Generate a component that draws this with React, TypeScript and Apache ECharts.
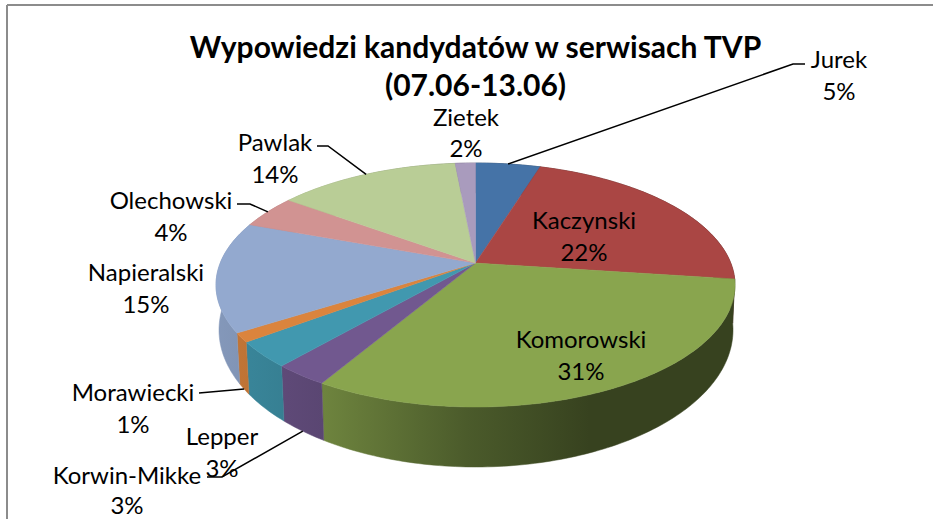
import React, { useEffect, useRef } from "react";
import * as echarts from "echarts";

const titleLines = ["Wypowiedzi kandydatów w serwisach TVP", "(07.06-13.06)"];
const names = ["Jurek", "Kaczynski", "Komorowski", "Korwin-Mikke", "Lepper", "Morawiecki", "Napieralski", "Olechowski", "Pawlak", "Zietek"];
const shares = [4.8, 22.3, 31.4, 2.9, 3.4, 1.2, 14.6, 4.4, 13.5, 1.5];
const colors = ["#4573a7", "#aa4644", "#89a54e", "#71588f", "#4198af", "#db843d", "#93a9cf", "#d19392", "#b9cd96", "#a99bbd"];

// label layout: centre of the name line and of the percent line
const labelX = [839, 584, 581, 127, 222, 133, 146, 171, 275, 466];
const labelY = [58, 219, 338, 474, 435, 391, 271, 199, 141, 116];
const percentY = [90, 251, 370, 504, 467, 423, 303, 231, 173, 147];
// leader lines: [end next to the label, elbow]; null = no leader
const leaders: (number[][] | null)[] = [
  [[805, 64], [793, 64]],
  null,
  null,
  [[207, 477], [222, 477]],
  null,
  [[199, 393], [199, 393]],
  null,
  [[237, 204], [250, 204]],
  [[317, 146], [328, 146]],
  null,
];

const TOP = { cx: 475.5, cy: 285, rx: 259.5, ry: 122 };
const BOTTOM = { cx: 476, cy: 330, rx: 257, ry: 137 };
const K = -0.18;
const S = Math.sqrt(1 - K * K);
const FONT = "Lato";

type Ell = { cx: number; cy: number; rx: number; ry: number };
function project(f: number, e: Ell): number[] {
  const t = 2 * Math.PI * f;
  const u = Math.sin(t);
  const v = -Math.cos(t);
  const d = 1 + K * v;
  return [e.cx + (e.rx * u * S) / d, e.cy + (e.ry * (v + K)) / d];
}
function arc(a: number, b: number, e: Ell): number[][] {
  const n = Math.max(2, Math.ceil((b - a) * 360));
  const pts: number[][] = [];
  for (let i = 0; i <= n; i++) pts.push(project(a + ((b - a) * i) / n, e));
  return pts;
}
function shade(hex: string, m: number): string {
  const c = parseInt(hex.slice(1), 16);
  const r = Math.round(((c >> 16) & 255) * m);
  const g = Math.round(((c >> 8) & 255) * m);
  const b = Math.round((c & 255) * m);
  return `rgb(${r},${g},${b})`;
}
function sideFill(hex: string) {
  const stops: number[][] = [[0, 0.9], [0.206, 0.8], [0.483, 0.55], [0.72, 0.4], [1, 0.4]];
  return new echarts.graphic.LinearGradient(
    TOP.cx - TOP.rx, 0, TOP.cx + TOP.rx, 0,
    stops.map(([offset, m]) => ({ offset, color: shade(hex, m) })),
    true
  );
}

const ranges: number[][] = [];
{
  let sum = 0;
  const total = shares.reduce((a, b) => a + b, 0);
  shares.forEach((s) => {
    ranges.push([sum / total, (sum + s) / total]);
    sum += s;
  });
}

const titleTop = [30, 68];

export default function App() {
  const ref = useRef<HTMLDivElement>(null);
  useEffect(() => {
    const chart = echarts.init(ref.current!, undefined, { renderer: "svg" });
    chart.setOption({
      animation: false,
      backgroundColor: "#ffffff",
      title: titleLines.map((text, i) => ({
        text,
        left: 475.5,
        top: titleTop[i],
        padding: 0,
        textAlign: "center",
        textStyle: { fontFamily: FONT, fontWeight: "bold", fontSize: 30, lineHeight: 32, color: "#000000" },
      })),
      graphic: [
        { type: "line", shape: { x1: 7, y1: 5, x2: 933, y2: 5 }, style: { stroke: "#8c8c8c", lineWidth: 2 } },
        { type: "line", shape: { x1: 7, y1: 5, x2: 7, y2: 519 }, style: { stroke: "#8c8c8c", lineWidth: 2 } },
      ],
      series: [
        {
          type: "custom",
          coordinateSystem: "none",
          z: 1,
          data: ranges,
          renderItem: (params: any, api: any) => {
            const a = api.value(0);
            const b = api.value(1);
            const col = colors[params.dataIndex];
            const fill = sideFill(col);
            const pts = arc(a, b, TOP).concat(arc(a, b, BOTTOM).reverse());
            return { type: "polygon", shape: { points: pts }, style: { fill, stroke: fill, lineWidth: 0.5 } };
          },
        },
        {
          type: "custom",
          coordinateSystem: "none",
          z: 2,
          data: ranges,
          renderItem: (params: any, api: any) => {
            const a = api.value(0);
            const b = api.value(1);
            const col = colors[params.dataIndex];
            const apex = [TOP.cx, TOP.cy + TOP.ry * K];
            const pts = [apex].concat(arc(a, b, TOP));
            return { type: "polygon", shape: { points: pts }, style: { fill: col, stroke: col, lineWidth: 0.5 } };
          },
        },
        {
          type: "custom",
          coordinateSystem: "none",
          z: 3,
          data: ranges,
          renderItem: (params: any, api: any) => {
            const i = params.dataIndex;
            const a = api.value(0);
            const b = api.value(1);
            const mid = (a + b) / 2;
            const front = Math.cos(2 * Math.PI * mid) < 0;
            const children: any[] = [];
            const lead = leaders[i];
            if (lead) {
              const end = project(mid, front ? BOTTOM : TOP);
              children.push({
                type: "polyline",
                shape: { points: [lead[0], lead[1], end] },
                style: { stroke: "#000000", lineWidth: 1.5, fill: "none" },
              });
            }
            const textStyle = { fontFamily: FONT, fontSize: 24, fill: "#000000", align: "center", verticalAlign: "middle" };
            children.push({ type: "text", style: { ...textStyle, text: names[i], x: labelX[i], y: labelY[i] } });
            children.push({
              type: "text",
              style: { ...textStyle, text: `${Math.round(shares[i])}%`, x: labelX[i], y: percentY[i] },
            });
            return { type: "group", children };
          },
        },
      ],
    });
    return () => chart.dispose();
  }, []);
  return <div ref={ref} style={{ position: "absolute", left: 0, top: 0, width: 933, height: 519 }} />;
}
